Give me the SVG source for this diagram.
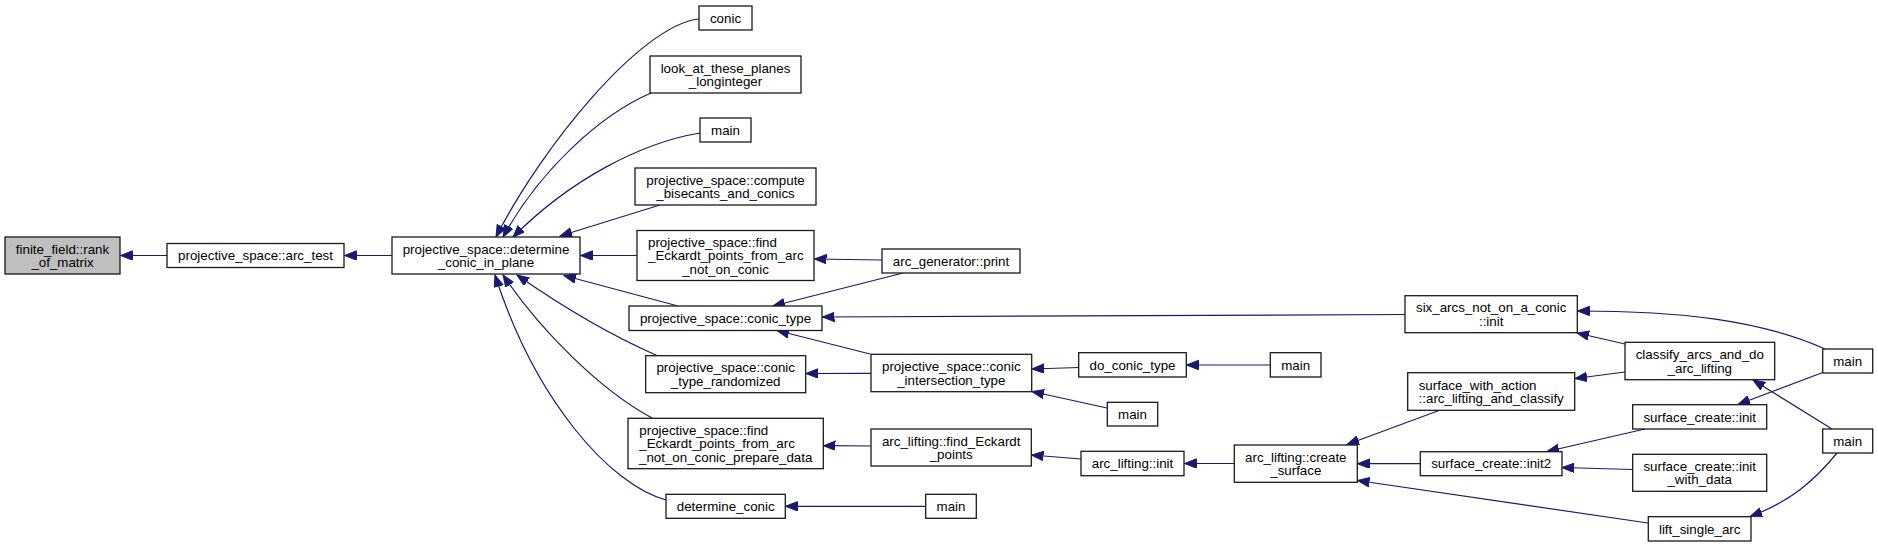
<svg xmlns="http://www.w3.org/2000/svg" width="1878" height="547" viewBox="0 0 1878 547">
<style>
.n rect{fill:#ffffff;stroke:#1a1a1a;stroke-width:1.3}
.n rect.hl{fill:#bfbfbf}
.n text{font-family:"Liberation Sans",Arial,Helvetica,sans-serif;font-size:13.33px;fill:#000000;text-anchor:middle}
.n text.l{text-anchor:start}
#edges path{fill:none;stroke:#191970;stroke-width:1.2;marker-end:url(#ah)}
</style>
<defs>
<marker id="ah" markerUnits="userSpaceOnUse" markerWidth="14" markerHeight="11" refX="12" refY="4.7" orient="auto">
<path d="M0,0 L12,4.7 L0,9.4 z" style="fill:#191970;stroke:#191970;stroke-width:1"/>
</marker>
</defs>
<rect width="1878" height="547" fill="#ffffff"/>
<g id="edges">
<path d="M167,255.5 L120.5,255.5"/>
<path d="M392,255.5 L344.5,255.5"/>
<path d="M699,19 C640,25 540,150 496,237"/>
<path d="M651,93 C600,115 540,170 503,237"/>
<path d="M700,133 C640,143 570,180 513,237"/>
<path d="M660,205 L560,236"/>
<path d="M637,255.5 L580.5,255.5"/>
<path d="M678,306 L564,275.5"/>
<path d="M658,356 C610,335 560,305 517,275"/>
<path d="M652,418 C600,390 540,330 503,275"/>
<path d="M666,500 C610,485 535,400 495,275"/>
<path d="M882,260 L814.5,259"/>
<path d="M903,273 L773,306"/>
<path d="M1405,314.5 L822.5,317"/>
<path d="M870,354 L777,330.5"/>
<path d="M871,373.3 L806,373.5"/>
<path d="M1079,367.5 L1032,369"/>
<path d="M1270,365 L1186.5,365"/>
<path d="M1107,408 L1032,391.5"/>
<path d="M871,446 L823.5,445.7"/>
<path d="M1081,459 L1031.5,455"/>
<path d="M1234,463.5 L1184.5,463.5"/>
<path d="M926,506.3 L785.5,506.3"/>
<path d="M1439,410.5 L1347,444.5"/>
<path d="M1420,463.7 L1357.5,463.7"/>
<path d="M1648,523 L1357.5,480.5"/>
<path d="M1625,344 L1577,333"/>
<path d="M1625,372 L1575,378.5"/>
<path d="M1825,349 C1760,320 1680,311 1577.5,311"/>
<path d="M1822.7,372.5 L1738,404.5"/>
<path d="M1832,429 L1753,380"/>
<path d="M1645,429 L1547,451.5"/>
<path d="M1632.7,469.5 L1562,467.5"/>
<path d="M1837,453 C1815,480 1790,502 1750,516.5"/>
</g>
<g id="n_finite_field" class="n"><rect class="hl" x="5" y="237" width="115" height="37"/><text x="62.5" y="253.7">finite_field::rank</text><text x="62.5" y="267.3">_of_matrix</text></g>
<g id="n_arc_test" class="n"><rect x="167" y="243.5" width="177" height="24"/><text x="255.5" y="260.2">projective_space::arc_test</text></g>
<g id="n_determine_conic_in_plane" class="n"><rect x="392" y="237" width="188" height="37"/><text x="486" y="253.7">projective_space::determine</text><text x="486" y="267.3">_conic_in_plane</text></g>
<g id="n_conic" class="n"><rect x="699" y="6" width="53" height="24"/><text x="725.5" y="22.7">conic</text></g>
<g id="n_look_at" class="n"><rect x="650" y="56" width="151" height="37"/><text x="725.5" y="72.7">look_at_these_planes</text><text x="725.5" y="86.3">_longinteger</text></g>
<g id="n_main1" class="n"><rect x="700" y="118" width="51" height="24"/><text x="725.5" y="134.7">main</text></g>
<g id="n_compute" class="n"><rect x="635" y="168" width="181" height="37"/><text x="725.5" y="184.7">projective_space::compute</text><text x="725.5" y="198.3">_bisecants_and_conics</text></g>
<g id="n_find_eckardt" class="n"><rect x="637" y="230.5" width="177" height="50"/><text class="l" x="648" y="246.9">projective_space::find</text><text class="l" x="648" y="260.2">_Eckardt_points_from_arc</text><text x="725.5" y="273.5">_not_on_conic</text></g>
<g id="n_conic_type" class="n"><rect x="629" y="306" width="193" height="24.5"/><text x="725.5" y="323">projective_space::conic_type</text></g>
<g id="n_conic_type_randomized" class="n"><rect x="645.7" y="355.7" width="160" height="37"/><text x="725.7" y="372.4">projective_space::conic</text><text x="725.7" y="386">_type_randomized</text></g>
<g id="n_prepare_data" class="n"><rect x="628" y="418.3" width="195.3" height="50.4"/><text class="l" x="639.3" y="434.9">projective_space::find</text><text class="l" x="639.3" y="448.2">_Eckardt_points_from_arc</text><text x="725.7" y="461.5">_not_on_conic_prepare_data</text></g>
<g id="n_determine_conic" class="n"><rect x="666" y="494.3" width="119.3" height="24"/><text x="725.7" y="511">determine_conic</text></g>
<g id="n_arc_generator_print" class="n"><rect x="882" y="249" width="138" height="24"/><text x="951" y="265.7">arc_generator::print</text></g>
<g id="n_conic_intersection_type" class="n"><rect x="871" y="354.3" width="160.7" height="37.4"/><text x="951.3" y="371.3">projective_space::conic</text><text x="951.3" y="384.9">_intersection_type</text></g>
<g id="n_arc_lifting_find_eckardt" class="n"><rect x="871" y="429" width="160.3" height="37"/><text x="951.2" y="445.5">arc_lifting::find_Eckardt</text><text x="951.2" y="459.1">_points</text></g>
<g id="n_main_bottom" class="n"><rect x="925.7" y="494.3" width="50.6" height="24"/><text x="951" y="511">main</text></g>
<g id="n_six_arcs" class="n"><rect x="1405" y="295.7" width="172.3" height="37"/><text x="1491.2" y="312.4">six_arcs_not_on_a_conic</text><text x="1491.2" y="326">::init</text></g>
<g id="n_do_conic_type" class="n"><rect x="1078.7" y="352.7" width="107.6" height="24.3"/><text x="1132.5" y="369.5">do_conic_type</text></g>
<g id="n_main_do" class="n"><rect x="1270.3" y="352.7" width="50.7" height="24.3"/><text x="1295.7" y="369.5">main</text></g>
<g id="n_main_inter" class="n"><rect x="1107.3" y="402.3" width="50.4" height="23.7"/><text x="1132.5" y="418.9">main</text></g>
<g id="n_arc_lifting_init" class="n"><rect x="1081" y="451.3" width="103" height="24.4"/><text x="1132.5" y="468.2">arc_lifting::init</text></g>
<g id="n_create_surface" class="n"><rect x="1234.3" y="445" width="123" height="37.3"/><text x="1295.8" y="461.6">arc_lifting::create</text><text x="1295.8" y="475.2">_surface</text></g>
<g id="n_surface_with_action" class="n"><rect x="1407.7" y="372.7" width="167" height="37.6"/><text class="l" x="1418.7" y="389.5">surface_with_action</text><text x="1491.2" y="403.1">::arc_lifting_and_classify</text></g>
<g id="n_classify_arcs" class="n"><rect x="1625" y="342.3" width="149.7" height="37.4"/><text x="1699.8" y="359.3">classify_arcs_and_do</text><text x="1699.8" y="372.9">_arc_lifting</text></g>
<g id="n_surface_create_init2" class="n"><rect x="1420.3" y="451.7" width="141.7" height="24"/><text x="1491.2" y="468.4">surface_create::init2</text></g>
<g id="n_surface_create_init" class="n"><rect x="1632.7" y="404.7" width="134" height="24.3"/><text x="1699.7" y="421.5">surface_create::init</text></g>
<g id="n_surface_create_init_with_data" class="n"><rect x="1632.7" y="454.3" width="134" height="37"/><text x="1699.7" y="470.8">surface_create::init</text><text x="1699.7" y="484.4">_with_data</text></g>
<g id="n_lift_single_arc" class="n"><rect x="1648.3" y="516.7" width="102.7" height="24.3"/><text x="1699.7" y="533.5">lift_single_arc</text></g>
<g id="n_main_r1" class="n"><rect x="1822.7" y="349" width="50" height="24"/><text x="1847.7" y="365.7">main</text></g>
<g id="n_main_r2" class="n"><rect x="1822.7" y="429" width="50" height="24"/><text x="1847.7" y="445.7">main</text></g>
</svg>
